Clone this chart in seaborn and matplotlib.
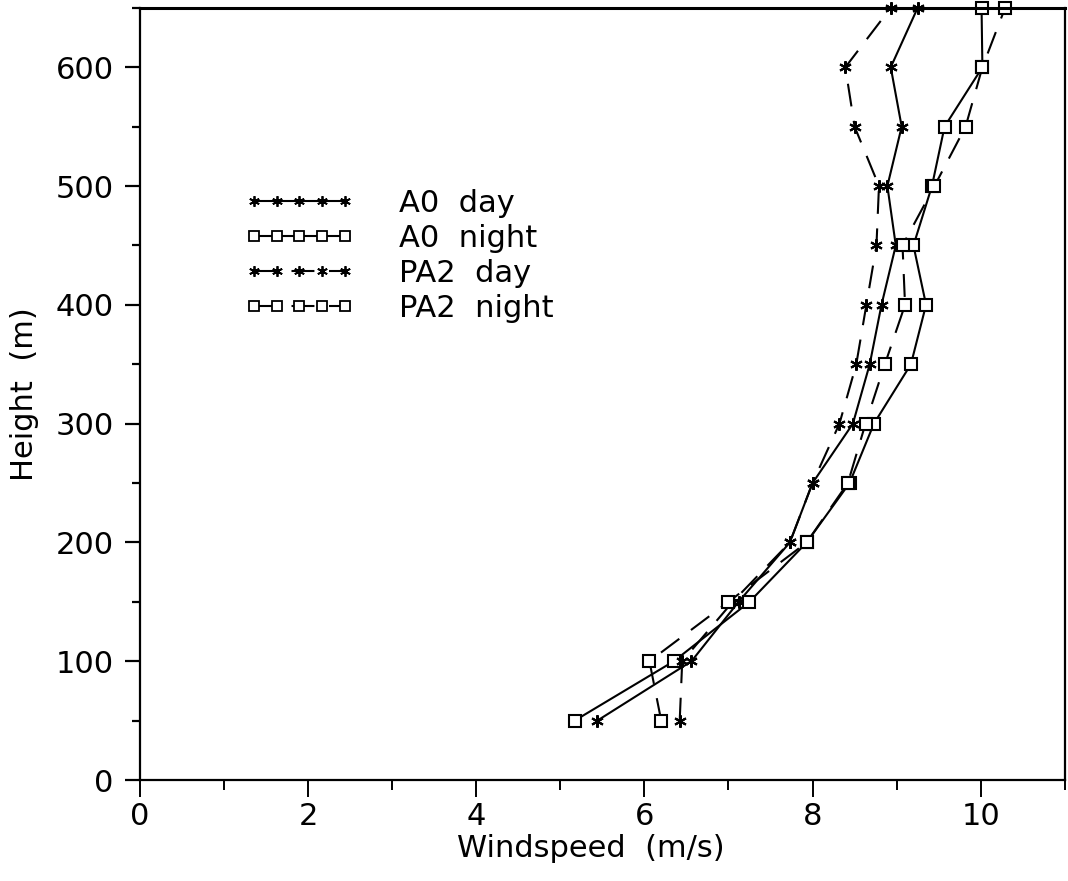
import matplotlib
matplotlib.use("Agg")
import matplotlib.pyplot as plt
import seaborn as sns
import pandas as pd
from matplotlib.lines import Line2D
from matplotlib.ticker import MultipleLocator

heights = [50, 100, 150, 200, 250, 300, 350, 400, 450, 500, 550, 600, 650]
a0_day = [5.44, 6.56, 7.12, 7.73, 8.00, 8.48, 8.68, 8.82, 8.99, 8.89, 9.06, 8.93, 9.25]
a0_night = [5.17, 6.35, 7.25, 7.93, 8.44, 8.73, 9.17, 9.35, 9.20, 9.42, 9.57, 10.02, 10.01]
pa2_day = [6.42, 6.45, 7.05, 7.73, 8.00, 8.32, 8.52, 8.64, 8.76, 8.79, 8.50, 8.39, 8.93]
pa2_night = [6.20, 6.06, 7.00, 7.93, 8.42, 8.63, 8.86, 9.10, 9.07, 9.45, 9.82, 10.02, 10.29]
series_names = ["A0  day", "A0  night", "PA2  day", "PA2  night"]

sns.set_style("white")
plt.rcParams['font.family'] = ['DejaVu Sans']
plt.rcParams['text.color'] = 'black'
plt.rcParams['axes.labelcolor'] = 'black'
plt.rcParams['xtick.color'] = 'black'
plt.rcParams['ytick.color'] = 'black'

rows = []
for name, vals in zip(series_names, [a0_day, a0_night, pa2_day, pa2_night]):
    for h, v in zip(heights, vals):
        rows.append({"series": name, "height": h, "speed": v})
df = pd.DataFrame(rows)

fig = plt.figure(figsize=(10.68, 8.81), dpi=100)
ax = fig.add_axes([0.131, 0.1146, 0.866, 0.8765])

star = (6, 2, 0)
dash = (0, (11, 7))
styles = {
    "A0  day": dict(marker=star, ls="-", ms=9, mfc="black"),
    "A0  night": dict(marker="s", ls="-", ms=8, mfc="white"),
    "PA2  day": dict(marker=star, ls=dash, ms=9, mfc="black"),
    "PA2  night": dict(marker="s", ls=dash, ms=8, mfc="white"),
}

handles = []
for name in series_names:
    sub = df[df.series == name]
    st = styles[name]
    sns.lineplot(data=sub, x="speed", y="height", sort=False, estimator=None,
                 ax=ax, color="black", lw=1.5, marker=st["marker"], ms=st["ms"],
                 mfc=st["mfc"], mec="black", mew=1.5, linestyle=st["ls"],
                 clip_on=False)
    handles.append(Line2D([], [], color="black", lw=1.5, marker=st["marker"],
                          ms=st["ms"] * 0.85, mfc=st["mfc"], mec="black", mew=1.3,
                          linestyle=st["ls"], label=name))

ax.set_xlim(0, 11)
ax.set_ylim(0, 650)
ax.xaxis.set_major_locator(MultipleLocator(2))
ax.xaxis.set_minor_locator(MultipleLocator(1))
ax.yaxis.set_major_locator(MultipleLocator(100))
ax.yaxis.set_minor_locator(MultipleLocator(50))
ax.tick_params(axis="x", which="major", direction="out", length=12, width=1.4,
               labelsize=22, pad=4, bottom=True)
ax.tick_params(axis="x", which="minor", direction="out", length=7, width=1.4, bottom=True)
ax.tick_params(axis="y", which="major", direction="out", length=11, width=1.6,
               labelsize=22, pad=8, left=True)
ax.tick_params(axis="y", which="minor", direction="out", length=6, width=1.6, left=True)
for s in ax.spines.values():
    s.set_color("black")
    s.set_linewidth(1.6)
ax.spines["top"].set_linewidth(2.2)

ax.set_xlabel("Windspeed  (m/s)", fontsize=22, labelpad=6)
ax.xaxis.set_label_coords(0.487, -0.07)
ax.set_ylabel("Height  (m)", fontsize=22, labelpad=12)

leg = ax.legend(handles=handles, loc="upper left", bbox_to_anchor=(0.113, 0.766),
                frameon=False, fontsize=22, numpoints=5, handlelength=3.6,
                handletextpad=1.45, labelspacing=0.2, borderaxespad=0,
                borderpad=0)

fig.savefig("out.png", dpi=100, facecolor="white")
